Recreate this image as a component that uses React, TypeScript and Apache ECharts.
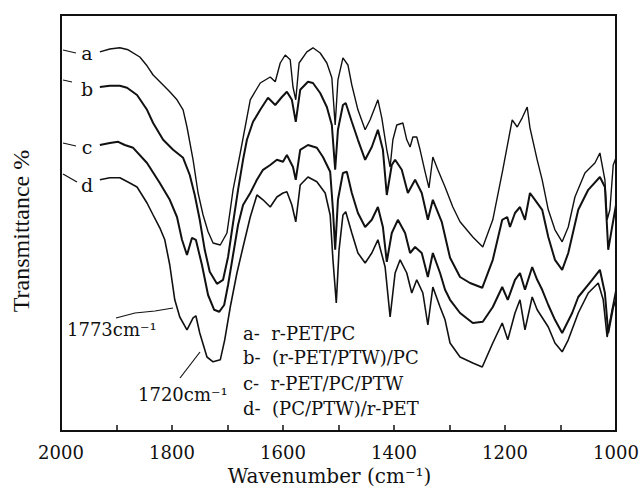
import React, { useEffect, useRef } from "react";
import * as echarts from "echarts";

// Wavenumber (cm-1), transmittance (arbitrary %, offset spectra)
const curveA: [number, number][] = [
  [1930, 94.8], [1912, 95.5], [1894, 95.8], [1879, 95.3], [1858, 93.5], [1845, 91.3], [1834, 89], [1816, 86.5],
  [1804, 84.8], [1791, 82.8], [1780, 80.3], [1773, 76], [1762, 67.8], [1753, 59.5], [1744, 54], [1735, 49.8],
  [1726, 47], [1713, 46.5], [1701, 49.5], [1695, 55.3], [1690, 60.3], [1677, 69.5], [1659, 82.8], [1641, 87],
  [1623, 88.5], [1614, 87.3], [1605, 92], [1596, 94], [1587, 92.8], [1582, 86], [1577, 82.8], [1571, 92],
  [1557, 94.8], [1546, 95.8], [1533, 94.5], [1521, 92], [1512, 88.3], [1506, 76.5], [1501, 87.8], [1492, 93.3],
  [1483, 91.5], [1476, 86.5], [1465, 80.3], [1452, 75.3], [1443, 77.8], [1429, 82.8], [1422, 78.3], [1413, 70.3],
  [1407, 66], [1402, 72.8], [1395, 76.5], [1384, 77], [1377, 72.8], [1371, 71], [1366, 73.5], [1359, 73.5],
  [1353, 70.3], [1344, 64.8], [1337, 60.8], [1330, 68.5], [1321, 65.3], [1308, 61], [1294, 56], [1281, 52.3],
  [1258, 48.5], [1240, 46], [1222, 52.8], [1204, 65.3], [1187, 77.8], [1178, 76], [1169, 78.3], [1160, 81],
  [1155, 75.8], [1142, 67.8], [1133, 62.8], [1122, 55.3], [1110, 50.3], [1097, 47.3], [1086, 51], [1074, 58.5],
  [1056, 64.5], [1038, 67], [1029, 69.5], [1020, 62.8], [1016, 52.8], [1011, 55.3], [1005, 66.5], [1000, 68.3],
];

const curveB: [number, number][] = [
  [1930, 86], [1912, 86.3], [1894, 86.3], [1881, 85.8], [1863, 84], [1845, 80.3], [1834, 77], [1816, 72.8],
  [1798, 70.3], [1780, 68.3], [1768, 64], [1759, 59], [1750, 52.8], [1741, 45.3], [1732, 39.8], [1719, 36.8],
  [1708, 37.8], [1699, 43.5], [1690, 52], [1681, 60.3], [1672, 67.8], [1665, 72.8], [1654, 77.3], [1641, 80.3],
  [1627, 83.3], [1614, 81.5], [1602, 83.5], [1593, 84.8], [1584, 82.8], [1577, 77.3], [1569, 85.3], [1555, 87.3],
  [1546, 87], [1533, 84.5], [1521, 81], [1512, 76.5], [1506, 65.3], [1501, 75.3], [1492, 81.5], [1487, 82],
  [1476, 77.3], [1465, 72.8], [1452, 67.8], [1440, 71], [1429, 75.3], [1420, 70.3], [1413, 59], [1404, 66.5],
  [1398, 67.8], [1386, 65.3], [1375, 59.5], [1362, 62.8], [1350, 59.5], [1339, 52.8], [1330, 57.8], [1314, 52.3],
  [1299, 43.3], [1281, 38.5], [1263, 37], [1241, 35.8], [1222, 42.8], [1205, 52.8], [1196, 53.5], [1191, 51],
  [1182, 54.5], [1173, 56], [1164, 52.8], [1155, 59.5], [1146, 57.8], [1133, 55.3], [1122, 48.5], [1110, 42.8],
  [1097, 40.3], [1086, 44.5], [1068, 55.3], [1050, 60.3], [1029, 63.5], [1020, 61], [1014, 45.3], [1007, 51],
  [1000, 56.5],
];

const curveC: [number, number][] = [
  [1930, 71.5], [1912, 72], [1897, 72.3], [1885, 71.5], [1870, 70.8], [1845, 67], [1822, 62], [1804, 57.8],
  [1791, 53.5], [1782, 47.8], [1773, 44], [1764, 48.3], [1757, 47.8], [1746, 41.5], [1735, 34], [1724, 30.3],
  [1715, 29.8], [1706, 31.5], [1699, 36.5], [1690, 44], [1681, 51.5], [1672, 56.5], [1659, 59.5], [1647, 62.8],
  [1636, 65.3], [1623, 66.5], [1611, 67.8], [1600, 67.3], [1593, 69], [1582, 66], [1577, 62.8], [1569, 70.3],
  [1555, 71.5], [1539, 70.8], [1528, 68.5], [1515, 64.8], [1510, 55.3], [1506, 45.3], [1501, 57.8], [1492, 64.5],
  [1485, 64.8], [1476, 59.5], [1465, 54.5], [1452, 51], [1440, 52.8], [1429, 56], [1420, 51], [1413, 42.3],
  [1404, 49.5], [1393, 52.8], [1380, 49.5], [1371, 44.5], [1362, 46], [1350, 44.5], [1339, 38.5], [1330, 44.5],
  [1317, 39.5], [1308, 35.3], [1299, 32.8], [1281, 29.5], [1258, 27], [1240, 27.3], [1222, 31], [1205, 36],
  [1195, 32.8], [1182, 37.8], [1173, 39.5], [1164, 35.3], [1151, 41], [1142, 37.8], [1133, 35.3], [1122, 31.5],
  [1110, 27.8], [1097, 24.5], [1079, 29.5], [1068, 33.5], [1043, 37.8], [1029, 40.3], [1020, 34.5], [1014, 24.5],
  [1005, 31], [1000, 32.8],
];

const curveD: [number, number][] = [
  [1930, 62.8], [1912, 63.3], [1894, 63.3], [1876, 62], [1863, 61], [1845, 57], [1834, 54], [1822, 50.8],
  [1813, 47.8], [1804, 41.5], [1795, 32.8], [1786, 28.5], [1773, 25.3], [1762, 28.3], [1757, 28.8], [1750, 24.5],
  [1737, 18.5], [1726, 17.3], [1713, 17.8], [1705, 22.8], [1695, 31], [1683, 39.5], [1672, 46], [1659, 53.5],
  [1647, 59], [1636, 57.8], [1623, 56], [1611, 58.5], [1600, 59.5], [1593, 59.8], [1584, 56.5], [1577, 52.3],
  [1569, 61.5], [1555, 63.5], [1539, 62.3], [1524, 59.5], [1515, 54], [1510, 42.8], [1504, 32], [1499, 45.3],
  [1492, 54], [1487, 54.8], [1476, 49.5], [1465, 44.5], [1452, 42], [1440, 44.5], [1429, 47.8], [1416, 41],
  [1407, 28.5], [1398, 39.5], [1389, 42.8], [1377, 39.5], [1368, 34.5], [1359, 37.8], [1348, 34.5], [1339, 26.5],
  [1330, 36], [1317, 31], [1308, 27.8], [1299, 22], [1281, 18.5], [1258, 17], [1241, 16], [1222, 22],
  [1205, 27], [1195, 22.8], [1182, 29.5], [1173, 32.8], [1164, 25.3], [1151, 33.5], [1142, 30.3], [1122, 26],
  [1110, 22], [1097, 19.8], [1086, 22.8], [1068, 29.5], [1050, 34.5], [1032, 37], [1023, 32.8], [1016, 23.5],
  [1007, 30.3], [1000, 35.3],
];

const seriesNames = ["a", "b", "c", "d"];
const legendLines = [
  "a-  r-PET/PC",
  "b-  (r-PET/PTW)/PC",
  "c-  r-PET/PC/PTW",
  "d-  (PC/PTW)/r-PET",
];
const xTickLabels = [2000, 1800, 1600, 1400, 1200, 1000];
const peakLabels = ["1773cm⁻¹", "1720cm⁻¹"];

const FONT = "'DejaVu Serif', 'Liberation Serif', serif";
const TIMES = "'Liberation Serif', 'DejaVu Serif', serif";

export default function App() {
  const ref = useRef<HTMLDivElement>(null);

  useEffect(() => {
    document.body.style.margin = "0";
    if (!ref.current) return;
    const chart = echarts.init(ref.current, null, { renderer: "svg" });
    const curves = [curveA, curveB, curveC, curveD];
    const widths = [1.4, 2, 2, 1.6];

    const graphic: any[] = [];
    const labelY = [53, 89, 147, 185];
    const dashes = [
      [63, 50, 76, 53],
      [63, 80, 72, 82],
      [63, 143, 76, 146],
      [63, 174, 77, 182],
    ];
    seriesNames.forEach((n, i) => {
      graphic.push({
        type: "text",
        x: 87,
        y: labelY[i],
        style: { text: n, fontSize: 19, fontFamily: FONT, fill: "#111", align: "center", verticalAlign: "middle" },
      });
      const d = dashes[i];
      graphic.push({
        type: "line",
        shape: { x1: d[0], y1: d[1], x2: d[2], y2: d[3] },
        style: { stroke: "#111", lineWidth: 1.2 },
      });
    });
    const legY = [333, 357, 383, 408];
    legendLines.forEach((t, i) => {
      graphic.push({
        type: "text",
        x: 243,
        y: legY[i],
        style: { text: t, fontSize: 18, fontFamily: FONT, fill: "#111", align: "left", verticalAlign: "middle" },
      });
    });
    graphic.push({
      type: "text",
      x: 67,
      y: 329,
      style: { text: peakLabels[0], fontSize: 18, fontFamily: FONT, fill: "#111", align: "left", verticalAlign: "middle" },
    });
    graphic.push({
      type: "polyline",
      shape: { points: [[116, 318], [135, 313], [155, 311], [173, 308]] },
      style: { stroke: "#111", lineWidth: 1.2, fill: null },
    });
    graphic.push({
      type: "text",
      x: 138,
      y: 394,
      style: { text: peakLabels[1], fontSize: 18, fontFamily: FONT, fill: "#111", align: "left", verticalAlign: "middle" },
    });
    graphic.push({
      type: "line",
      shape: { x1: 180, y1: 378, x2: 200, y2: 352 },
      style: { stroke: "#111", lineWidth: 1.2 },
    });

    chart.setOption({
      animation: false,
      backgroundColor: "#fff",
      grid: { left: 61, right: 26, top: 15, bottom: 60, show: true, borderColor: "#111", borderWidth: 2 },
      xAxis: {
        type: "value",
        min: 1000,
        max: 2000,
        interval: 100,
        inverse: true,
        name: "Wavenumber (cm⁻¹)",
        nameLocation: "middle",
        nameGap: 34,
        nameTextStyle: { fontFamily: FONT, fontSize: 20, color: "#111", padding: [0, 18, 0, 0] },
        axisLine: { show: true, lineStyle: { color: "#111", width: 2 } },
        axisTick: { show: true, inside: true, length: 6, lineStyle: { color: "#111", width: 1.5 } },
        axisLabel: {
          margin: 12,
          fontFamily: FONT,
          fontSize: 18,
          color: "#111",
          formatter: (v: number) => (xTickLabels.includes(v) ? String(v) : ""),
        },
        splitLine: { show: false },
      },
      yAxis: {
        type: "value",
        min: 0,
        max: 104,
        name: "Transmittance %",
        nameLocation: "middle",
        nameGap: 28,
        nameTextStyle: { fontFamily: TIMES, fontSize: 24, color: "#111", padding: [0, 16, 0, 0] },
        axisLine: { show: true, lineStyle: { color: "#111", width: 2 } },
        axisTick: { show: false },
        axisLabel: { show: false },
        splitLine: { show: false },
      },
      series: curves.map((c, i) => ({
        name: seriesNames[i],
        type: "line",
        data: c,
        showSymbol: false,
        symbol: "none",
        lineStyle: { color: "#111", width: widths[i] },
        z: 3,
      })),
      graphic,
    });
    return () => chart.dispose();
  }, []);

  return <div ref={ref} style={{ width: 642, height: 491 }} />;
}
